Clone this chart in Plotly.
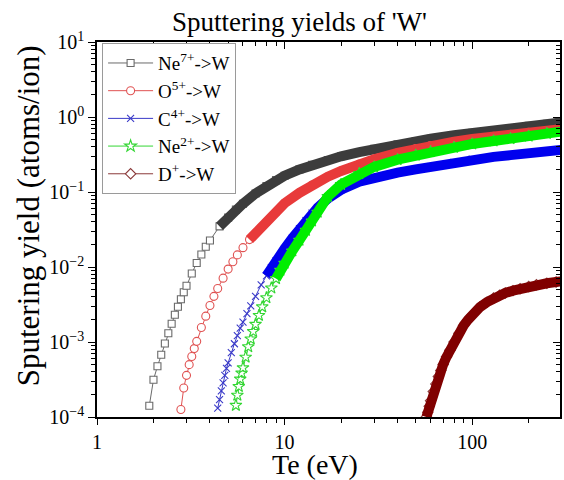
import plotly.graph_objects as go

# ---------------- data ----------------
te_ne7 = [1.9, 2.0, 2.1, 2.2, 2.3, 2.4, 2.5, 2.6, 2.7, 2.8, 2.9, 3.0, 3.2, 3.4, 3.6, 3.8, 4.0,
          4.5, 5.0, 5.5, 6.0, 7, 8, 9, 10, 12, 14, 17, 20, 25, 30, 40, 50, 60, 80, 100,
          130, 160, 200, 250, 300]
y_ne7 = [1.41e-4, 3.14e-4, 4.74e-4, 6.76e-4, 9.57e-4, 1.31e-3, 1.75e-3, 2.31e-3, 2.95e-3,
         3.72e-3, 4.6e-3, 5.62e-3, 8.2e-3, 0.0113, 0.0147, 0.0186, 0.0226, 0.0348, 0.0456,
         0.0582, 0.0697, 0.0955, 0.1205, 0.144, 0.165, 0.2, 0.23, 0.267, 0.299, 0.341, 0.377,
         0.433, 0.478, 0.514, 0.571, 0.618, 0.671, 0.715, 0.762, 0.809, 0.849]

te_o5 = [2.8, 2.9, 3.0, 3.1, 3.2, 3.3, 3.4, 3.6, 3.8, 4.0, 4.2, 4.4, 4.7, 5.0, 5.3, 5.6, 6.0,
         6.5, 7.0, 7.5, 8.0, 9, 10, 12, 14, 17, 20, 25, 30, 40, 50, 60, 80, 100, 130, 160,
         200, 250, 300]
y_o5 = [1.26e-4, 2.44e-4, 3.59e-4, 4.99e-4, 6.41e-4, 8.17e-4, 1.02e-3, 1.56e-3, 2.21e-3,
        3.06e-3, 4.06e-3, 5.16e-3, 7.1e-3, 9.38e-3, 0.01175, 0.0145, 0.0181, 0.0232, 0.0283,
        0.0337, 0.0395, 0.0537, 0.0708, 0.0975, 0.124, 0.16, 0.191, 0.236, 0.274, 0.333,
        0.379, 0.416, 0.469, 0.509, 0.553, 0.587, 0.624, 0.659, 0.689]

te_c4 = [4.4, 4.5, 4.6, 4.7, 4.8, 4.9, 5.0, 5.2, 5.4, 5.6, 5.8, 6.0, 6.3, 6.6, 7.0, 7.5, 8.0,
         8.5, 9, 10, 11, 12, 13, 14, 15, 17, 20, 25, 30, 40, 50, 60, 80, 100, 130, 160, 200,
         250, 300]
y_c4 = [1.31e-4, 1.71e-4, 2.23e-4, 2.85e-4, 3.6e-4, 4.46e-4, 5.26e-4, 7.23e-4, 9.48e-4,
        1.22e-3, 1.53e-3, 1.84e-3, 2.39e-3, 3.04e-3, 4.07e-3, 5.79e-3, 7.62e-3, 9.8e-3,
        0.01205, 0.01758, 0.0243, 0.0325, 0.0416, 0.0522, 0.0617, 0.082, 0.107, 0.137, 0.156,
        0.181, 0.2, 0.218, 0.248, 0.275, 0.294, 0.31, 0.329, 0.348, 0.365]

te_ne2 = [5.5, 5.6, 5.7, 5.8, 5.9, 6.0, 6.2, 6.4, 6.6, 6.8, 7.0, 7.3, 7.6, 8.0, 8.5, 9, 9.5,
          10, 11, 12, 13, 14, 15, 17, 20, 25, 30, 40, 50, 60, 80, 100, 130, 160, 200, 250, 300]
y_ne2 = [1.43e-4, 1.95e-4, 2.55e-4, 3.2e-4, 3.85e-4, 4.53e-4, 6.28e-4, 8.65e-4, 1.1e-3,
         1.38e-3, 1.72e-3, 2.26e-3, 2.94e-3, 3.89e-3, 5.25e-3, 7.0e-3, 9.04e-3, 0.0112,
         0.0164, 0.0227, 0.0308, 0.0411, 0.0537, 0.0871, 0.126, 0.176, 0.216, 0.27, 0.309,
         0.344, 0.393, 0.437, 0.479, 0.515, 0.556, 0.601, 0.641]

te_d = [57, 58, 59, 60, 62, 64, 66, 68, 70, 73, 76, 80, 85, 90, 95, 100, 110, 120, 130, 140,
        150, 165, 180, 200, 220, 250, 280, 300]
y_d = [1.0e-4, 1.16e-4, 1.39e-4, 1.65e-4, 2.18e-4, 2.76e-4, 3.47e-4, 4.18e-4, 5.0e-4, 6.34e-4,
       7.76e-4, 1.0e-3, 1.31e-3, 1.66e-3, 1.98e-3, 2.29e-3, 2.92e-3, 3.4e-3, 3.85e-3, 4.2e-3,
       4.5e-3, 4.84e-3, 5.14e-3, 5.48e-3, 5.8e-3, 6.07e-3, 6.3e-3, 6.46e-3]

names = ["Ne<sup>7+</sup>->W", "O<sup>5+</sup>->W", "C<sup>4+</sup>->W",
         "Ne<sup>2+</sup>->W", "D<sup>+</sup>->W"]

x_tick_vals = [1, 10, 100]
x_tick_text = ["1", "10", "100"]
y_tick_vals = [1e-4, 1e-3, 1e-2, 1e-1, 1, 10]
y_tick_text = ["10<sup>\u22124</sup>", "10<sup>\u22123</sup>", "10<sup>\u22122</sup>",
               "10<sup>\u22121</sup>", "10<sup>0</sup>", "10<sup>1</sup>"]

# ---------------- styles ----------------
series = [
    (te_ne7, y_ne7, names[0], "square", "#6a6a6a", "#3c3c3c", 4.5, 7),
    (te_o5, y_o5, names[1], "circle", "#e05252", "#e83a3a", 6.5, 8),
    (te_c4, y_c4, names[2], "x-thin", "#3a3ac8", "#0000ee", 8.0, 7),
    (te_ne2, y_ne2, names[3], "star", "#33d633", "#00ee00", 9.0, 9),
    (te_d, y_d, names[4], "diamond", "#8b3a3a", "#800000", 0.0, 8),
]
FONT = "Liberation Serif"
BAND_W = 10

fig = go.Figure()
for i, (xs, ys, nm, sym, oc, bc, band_from, msize) in enumerate(series):
    is_x = sym == "x-thin"
    fig.add_trace(go.Scatter(
        x=xs, y=ys, name=nm, mode="lines+markers", legendgroup=f"g{i}",
        line=dict(color=oc, width=1),
        marker=dict(symbol=sym, size=msize,
                    color=oc if is_x else "white",
                    line=dict(color=oc, width=1.1)),
    ))
    bx = [x for x in xs if x >= band_from]
    by = [y for x, y in zip(xs, ys) if x >= band_from]
    fig.add_trace(go.Scatter(
        x=bx, y=by, mode="lines", showlegend=False, legendgroup=f"g{i}",
        line=dict(color=bc, width=BAND_W), hoverinfo="skip",
    ))

# invisible copy on the mirrored axes so that their inward ticks are drawn
fig.add_trace(go.Scatter(x=te_ne7, y=y_ne7, xaxis="x2", yaxis="y2", mode="markers",
                         marker=dict(opacity=0), showlegend=False, hoverinfo="skip"))

x_minor = [m * 10 ** e for e in range(0, 3) for m in range(2, 10) if m * 10 ** e <= 300]
y_minor = [m * 10.0 ** e for e in range(-4, 1) for m in range(2, 10)]

axis_common = dict(showgrid=False, zeroline=False, tickcolor="black", tickwidth=1.3,
                   tickfont=dict(family=FONT, size=20, color="black"))

fig.update_layout(
    width=564, height=480,
    margin=dict(l=97, r=2, t=42, b=63),
    paper_bgcolor="white", plot_bgcolor="white",
    showlegend=True,
    xaxis=dict(type="log", range=[0, 2.468], tickmode="array", tickvals=x_tick_vals,
               ticktext=x_tick_text, ticks="outside", ticklen=6,
               showline=True, linecolor="black", linewidth=1.6, mirror=True,
               minor=dict(tickmode="array", tickvals=x_minor, ticks="outside", ticklen=4,
                          tickcolor="black", tickwidth=1.1, showgrid=False),
               **axis_common),
    yaxis=dict(type="log", range=[-4, 1], tickmode="array", tickvals=y_tick_vals,
               ticktext=y_tick_text, ticks="outside", ticklen=7,
               showline=True, linecolor="black", linewidth=1.6, mirror=True,
               minor=dict(tickmode="array", tickvals=y_minor, ticks="outside", ticklen=4,
                          tickcolor="black", tickwidth=1.1, showgrid=False),
               **axis_common),
    xaxis2=dict(type="log", range=[0, 2.468], overlaying="x", side="top", anchor="y2",
                tickmode="array", tickvals=x_tick_vals, ticks="inside", ticklen=7,
                showticklabels=False, showline=False,
                minor=dict(tickmode="array", tickvals=x_minor, ticks="inside", ticklen=4,
                           tickcolor="black", tickwidth=1.1, showgrid=False),
                **axis_common),
    yaxis2=dict(type="log", range=[-4, 1], overlaying="y", side="right", anchor="x2",
                tickmode="array", tickvals=y_tick_vals, ticks="inside", ticklen=7,
                showticklabels=False, showline=False,
                minor=dict(tickmode="array", tickvals=y_minor, ticks="inside", ticklen=4,
                           tickcolor="black", tickwidth=1.1, showgrid=False),
                **axis_common),
    legend=dict(x=0.011, y=0.997, xanchor="left", yanchor="top",
                bgcolor="white", bordercolor="#9a9a9a", borderwidth=1,
                font=dict(family=FONT, size=19, color="black"),
                itemwidth=45, tracegroupgap=2, traceorder="normal"),
    annotations=[
        dict(text="Sputtering yields of 'W'", xref="paper", yref="paper",
             x=(300 - 97) / 465, y=(417 - 22) / 375, showarrow=False,
             font=dict(family=FONT, size=27, color="black"), xanchor="center", yanchor="middle"),
        dict(text="Te (eV)", xref="paper", yref="paper",
             x=(316 - 97) / 465, y=(417 - 464) / 375, showarrow=False,
             font=dict(family=FONT, size=28, color="black"), xanchor="center", yanchor="middle"),
        dict(text="Sputering yield (atoms/ion)", xref="paper", yref="paper",
             x=(28 - 97) / 465, y=(417 - 216) / 375, showarrow=False, textangle=-90,
             font=dict(family=FONT, size=31, color="black"), xanchor="center", yanchor="middle"),
    ],
)

fig.write_html("out.html")
